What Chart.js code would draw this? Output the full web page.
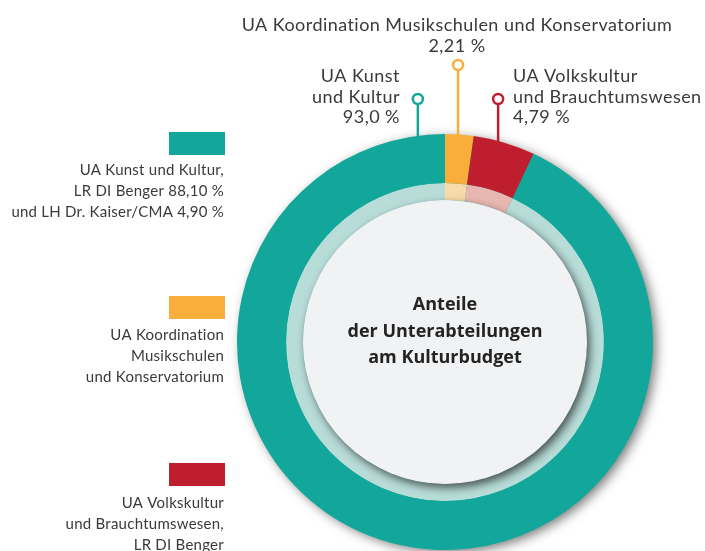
<!DOCTYPE html>
<html>
<head>
<meta charset="utf-8">
<script src="https://cdn.jsdelivr.net/npm/chart.js@4.4.0/dist/chart.umd.min.js"></script>
<style>
  html, body { margin: 0; background: #fff; }
</style>
</head>
<body>
<canvas id="budgetChart" width="705" height="551"></canvas>
<script>
// shares of the culture budget, drawn clockwise from 12 o'clock
const categories = ['UA Koordination Musikschulen und Konservatorium', 'UA Volkskultur und Brauchtumswesen', 'UA Kunst und Kultur'];
const shares = [2.21, 4.79, 93.0];
const colors = ['#f9ae3c', '#be1e2d', '#12a79a'];
const paleColors = ['#f7dba9', '#e7b7b0', '#b8dcd8'];

const centerTitle = ['Anteile', 'der Unterabteilungen', 'am Kulturbudget'];
const topTitle = ['UA Koordination Musikschulen und Konservatorium', '2,21 %'];
const leftCallout = ['UA Kunst', 'und Kultur', '93,0 %'];
const rightCallout = ['UA Volkskultur', 'und Brauchtumswesen', '4,79 %'];
const legendTexts = [
    ['UA Kunst und Kultur,', 'LR DI Benger 88,10 %', 'und LH Dr. Kaiser/CMA 4,90 %'],
    ['UA Koordination', 'Musikschulen', 'und Konservatorium'],
    ['UA Volkskultur', 'und Brauchtumswesen,', 'LR DI Benger']
];
const legendColors = [colors[2], colors[0], colors[1]];

const FONT = 'Lato, "Open Sans", sans-serif';
const TEXT = '#3a3a3a';

// callout markers: angle on the ring (deg from top) and y of the little circle
const markers = [
    {color: colors[2], angle: -7.5, y: 99},
    {color: colors[0], angle: 3.6, y: 65},
    {color: colors[1], angle: 14.8, y: 99}
];

function lines(ctx, arr, x, y0, step) {
    arr.forEach((t, i) => ctx.fillText(t, x, y0 + i * step));
}

const decor = {
    id: 'decor',
    beforeDatasetsDraw(chart) {
        const ctx = chart.ctx;
        const arc = chart.getDatasetMeta(0).data[0];
        const cx = arc.x, cy = arc.y, r = arc.outerRadius;
        ctx.save();
        // drop shadow under the ring
        ctx.shadowColor = 'rgba(0,0,0,0.55)';
        ctx.shadowBlur = 12;
        ctx.shadowOffsetX = 4;
        ctx.shadowOffsetY = 3;
        ctx.beginPath();
        ctx.arc(cx, cy, r - 1, 0, Math.PI * 2);
        ctx.fillStyle = colors[2];
        ctx.fill();
        ctx.restore();

        // callout stems, the ring covers their lower ends
        ctx.save();
        ctx.lineWidth = 2.5;
        markers.forEach(m => {
            const x = cx + r * Math.sin(m.angle * Math.PI / 180);
            ctx.strokeStyle = m.color;
            ctx.beginPath();
            ctx.moveTo(x, m.y);
            ctx.lineTo(x, cy - r + 30);
            ctx.stroke();
        });
        ctx.restore();
    },
    afterDatasetsDraw(chart) {
        const ctx = chart.ctx;
        const arc = chart.getDatasetMeta(0).data[0];
        const cx = arc.x, cy = arc.y, r = arc.outerRadius;
        const disc = chart.getDatasetMeta(2).data[0];

        // center disc again, this time with its shadow falling on the pale ring
        ctx.save();
        ctx.shadowColor = 'rgba(0,0,0,0.6)';
        ctx.shadowBlur = 9;
        ctx.shadowOffsetX = 3;
        ctx.shadowOffsetY = 4;
        ctx.beginPath();
        ctx.arc(cx, cy, disc.outerRadius, 0, Math.PI * 2);
        ctx.fillStyle = '#f1f2f4';
        ctx.fill();
        ctx.restore();

        ctx.save();
        // marker circles
        ctx.lineWidth = 2.5;
        markers.forEach(m => {
            const x = cx + r * Math.sin(m.angle * Math.PI / 180);
            ctx.strokeStyle = m.color;
            ctx.fillStyle = '#fff';
            ctx.beginPath();
            ctx.arc(x, m.y, 5, 0, Math.PI * 2);
            ctx.fill();
            ctx.stroke();
        });

        // center title
        ctx.fillStyle = '#232323';
        ctx.font = 'bold 18px "Open Sans", sans-serif';
        ctx.textAlign = 'center';
        ctx.textBaseline = 'alphabetic';
        lines(ctx, centerTitle, cx, 310, 26.5);

        // labels above the ring
        ctx.fillStyle = TEXT;
        ctx.font = '18px ' + FONT;
        ctx.letterSpacing = '0.45px';
        lines(ctx, topTitle, 457, 31, 21);
        ctx.textAlign = 'right';
        lines(ctx, leftCallout, 400, 82, 20.5);
        ctx.textAlign = 'left';
        lines(ctx, rightCallout, 513, 82, 20.5);

        // legend on the left
        const swatchY = [132, 296, 463];
        const textY = [175, 340, 508];
        ctx.font = '15px ' + FONT;
        ctx.letterSpacing = '0.25px';
        ctx.textAlign = 'right';
        legendTexts.forEach((txt, i) => {
            ctx.fillStyle = legendColors[i];
            ctx.fillRect(169, swatchY[i], 56, 23);
            ctx.fillStyle = TEXT;
            lines(ctx, txt, 224, textY[i], 21.2);
        });
        ctx.restore();
    }
};

new Chart(document.getElementById('budgetChart'), {
    type: 'doughnut',
    data: {
        labels: categories,
        datasets: [
            {data: shares, backgroundColor: colors, weight: 49, borderWidth: 0},
            {data: shares, backgroundColor: paleColors, weight: 17, borderWidth: 0},
            {data: [100], backgroundColor: ['#f1f2f4'], weight: 142, borderWidth: 0}
        ]
    },
    options: {
        responsive: false,
        animation: false,
        devicePixelRatio: 1,
        events: [],
        cutout: 0,
        radius: 208,
        rotation: 0,
        layout: {padding: {left: 190, right: 5, top: 134, bottom: 1}},
        plugins: {
            legend: {display: false},
            tooltip: {enabled: false}
        }
    },
    plugins: [decor]
});
</script>
</body>
</html>
